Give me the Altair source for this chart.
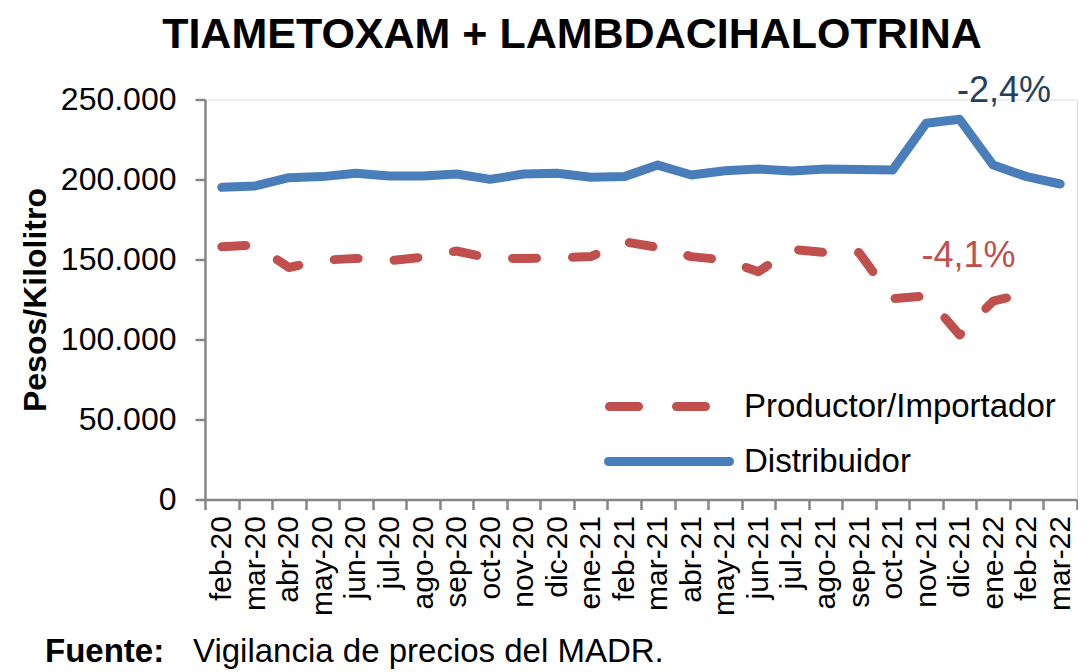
import altair as alt
import pandas as pd

meses = ["feb-20", "mar-20", "abr-20", "may-20", "jun-20", "jul-20", "ago-20", "sep-20",
         "oct-20", "nov-20", "dic-20", "ene-21", "feb-21", "mar-21", "abr-21", "may-21",
         "jun-21", "jul-21", "ago-21", "sep-21", "oct-21", "nov-21", "dic-21", "ene-22",
         "feb-22", "mar-22"]

distribuidor = [195100, 196000, 201100, 201800, 203900, 202200, 202200, 203400,
                200100, 203400, 203900, 201400, 201800, 209000, 202800, 205500,
                206600, 205300, 206600, 206300, 205900, 235100, 237600, 209000,
                201800, 197200]

productor = [158000, 159000, 145000, 149500, 150700, 149300, 151400, 155300,
             150700, 150700, 151100, 151800, 161100, 157600, 151800, 149700,
             142400, 156400, 154300, 154300, 125500, 127200, 102800, 124000,
             128900, None]

series_names = ["Productor/Importador", "Distribuidor"]
y_ticks = [0, 50000, 100000, 150000, 200000, 250000]

titulo = "TIAMETOXAM + LAMBDACIHALOTRINA"
eje_y = "Pesos/Kilolitro"
var_dist = "-2,4%"
var_prod = "-4,1%"
fuente_lbl = "Fuente:"
fuente_txt = "Vigilancia de precios del MADR."

BLUE = "#4A7EBB"
RED = "#C0504D"
GRAY = "#868686"
FONT = "Liberation Sans"

df = pd.DataFrame({
    "mes": meses * 2,
    "serie": [series_names[0]] * len(meses) + [series_names[1]] * len(meses),
    "valor": productor + distribuidor,
})

x_enc = alt.X("mes:N", sort=meses,
              scale=alt.Scale(type="band", paddingInner=0, paddingOuter=0),
              axis=alt.Axis(title=None, labelAngle=-90, labelFontSize=30, labelFont=FONT,
                            labelColor="black", tickBand="extent", tickSize=10,
                            tickColor=GRAY, tickWidth=2.5, domainColor=GRAY,
                            domainWidth=2.5, labelPadding=6, grid=False))
y_enc = alt.Y("valor:Q",
              scale=alt.Scale(domain=[0, 250000], nice=False, zero=True),
              axis=alt.Axis(values=y_ticks, title=eje_y, titleFontSize=32,
                            titleFont=FONT, titleFontWeight="bold", titleColor="black",
                            titleX=-170, titleY=200, titleAlign="center",
                            titleBaseline="middle", titleAngle=-90,
                            labelExpr="replace(format(datum.value, ','), ',', '.')",
                            labelFontSize=32, labelFont=FONT, labelColor="black",
                            labelPadding=19, tickSize=10, tickColor=GRAY, tickWidth=2.5,
                            domainColor=GRAY, domainWidth=2.5, grid=False))

base = alt.Chart(df)

line_prod = base.transform_filter(alt.datum.serie == series_names[0]).mark_line(
    color=RED, strokeWidth=9, strokeCap="round", strokeJoin="round",
    strokeDash=[24, 36]
).encode(x=x_enc, y=y_enc)

line_dist = base.transform_filter(alt.datum.serie == series_names[1]).mark_line(
    color=BLUE, strokeWidth=9, strokeCap="round", strokeJoin="round"
).encode(x=x_enc, y=y_enc)

one = alt.Data(values=[{}])

def txt(text, x, y, size, color="black", weight="normal", align="left", baseline="alphabetic"):
    return alt.Chart(one).mark_text(
        text=text, fontSize=size, font=FONT, color=color, fontWeight=weight,
        align=align, baseline=baseline
    ).encode(x=alt.value(x), y=alt.value(y))

title_m = txt(titulo, 367, -51.5, 43, weight="bold", align="center")
ann_dist = txt(var_dist, 799, 2.5, 36, color="#243F60", align="center")
ann_prod = txt(var_prod, 763.5, 167, 36, color=RED, align="center")
foot1 = txt(fuente_lbl, -160, 562, 33, weight="bold")
foot2 = txt(fuente_txt, -12, 562, 33)

leg_red = alt.Chart(one).mark_rule(
    color=RED, strokeWidth=9, strokeCap="round", strokeDash=[29, 38]
).encode(x=alt.value(404.5), x2=alt.value(500.5), y=alt.value(307))
leg_blue = alt.Chart(one).mark_rule(
    color=BLUE, strokeWidth=9, strokeCap="round"
).encode(x=alt.value(403.5), x2=alt.value(524.5), y=alt.value(362))
leg_t1 = txt(series_names[0], 539, 307, 33, baseline="middle")
leg_t2 = txt(series_names[1], 539, 362, 33, baseline="middle")

chart = alt.layer(
    line_dist, line_prod, title_m, ann_dist, ann_prod, foot1, foot2,
    leg_red, leg_blue, leg_t1, leg_t2
).properties(
    width=872, height=400,
    autosize=alt.AutoSizeParams(type="none"),
    padding={"left": 197, "top": 91.5, "right": 1, "bottom": 172},
).configure_view(stroke=None).configure(background="white")

chart.save("out.html", embed_options={"renderer": "svg", "actions": False})
